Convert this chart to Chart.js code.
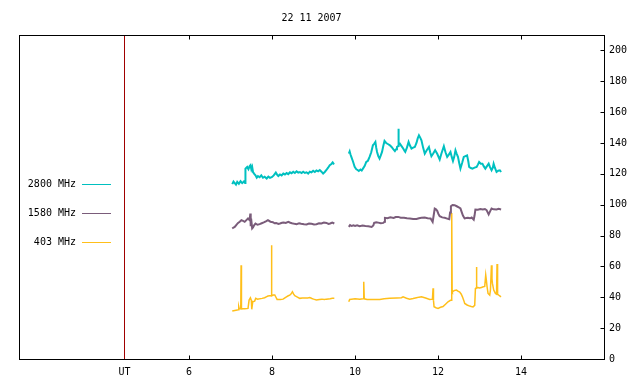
<!DOCTYPE html>
<html>
<head>
<meta charset="utf-8">
<script src="https://cdn.jsdelivr.net/npm/chart.js@4/dist/chart.umd.min.js"></script>
<style>
  html, body { margin: 0; padding: 0; background: #fff; }
  canvas { display: block; }
</style>
</head>
<body>
<canvas id="chart" width="640" height="384"></canvas>
<script>
// radio flux, 22 Nov 2007, hours UT
const chartTitle = "22 11 2007";
const utHour = 4.443; // position of the "UT" marker line
const xTicks = [utHour, 6, 8, 10, 12, 14];
const yTicks = [0, 20, 40, 60, 80, 100, 120, 140, 160, 180, 200];
const xMin = 1.9, xMax = 16;
const yMin = 0, yMax = 210;
const seriesNames = ["2800 MHz", "1580 MHz", "403 MHz"];

// [hour, value], null = data gap
const trace2800 = [
  [7.04,113.3],[7.07,115],[7.10,114],[7.13,113],[7.16,114.8],[7.20,113.5],[7.24,115.2],[7.28,114],[7.32,115],
  [7.350,114],[7.358,123.4],[7.40,124.5],[7.43,123],[7.46,125],[7.48,125.6],[7.50,123],[7.52,124.5],[7.54,121.2],
  [7.57,120],[7.60,119],[7.63,117.5],[7.66,118.5],[7.70,117.8],[7.74,119],[7.78,117.5],[7.82,118.2],[7.87,117],
  [7.91,118.2],[7.95,117.4],[8.00,118],[8.04,119],[8.09,120.8],[8.12,119.5],[8.15,118.6],[8.19,119.6],[8.23,119],
  [8.27,120.2],[8.31,119.6],[8.35,120.5],[8.39,119.8],[8.43,121],[8.47,120.4],[8.51,121.4],[8.55,120.6],[8.59,121.6],
  [8.63,120.8],[8.67,121.2],[8.71,120.5],[8.75,121.4],[8.79,120.6],[8.83,121],[8.87,120.2],[8.91,121.4],[8.95,121],
  [8.99,122],[9.03,121.2],[9.07,122.2],[9.11,121.6],[9.15,122.5],[9.19,121.4],[9.23,120.2],[9.27,121.2],[9.31,122.5],
  [9.35,124],[9.39,125.6],[9.43,126.4],[9.46,127.4],[9.48,126.6],[9.50,127],
  [9.68,null],
  [9.85,133.1],[9.87,134.5],[9.89,132.5],[9.91,131],[9.95,128],[9.99,124.5],[10.03,123],[10.06,122.5],[10.09,121.9],
  [10.13,122.8],[10.16,122.2],[10.19,123.4],[10.23,125],[10.27,127.7],[10.31,128.5],[10.35,131],[10.39,134],[10.43,138.5],
  [10.46,139.5],[10.49,140.7],[10.51,137],[10.53,134.2],[10.56,131.5],[10.59,129.9],[10.62,132],[10.65,134.2],[10.68,138],
  [10.71,141.3],[10.75,140],[10.80,139.2],[10.84,138.5],[10.88,137.4],[10.92,136],[10.96,134.8],[10.99,136],[11.01,137.4],
  [11.04,138],[11.046,149.3],[11.052,139],[11.08,139.6],[11.12,138],[11.16,136.4],[11.19,135],[11.21,134.2],[11.25,137],
  [11.29,140.7],[11.32,138.5],[11.36,136.4],[11.40,137],[11.44,137.4],[11.48,140],[11.51,143],[11.54,145],[11.57,143.5],
  [11.60,141.7],[11.64,137],[11.68,133.1],[11.72,135],[11.78,137.4],[11.81,134],[11.84,131.4],[11.88,133],[11.93,135.3],
  [11.98,133],[12.04,129.3],[12.08,133],[12.14,137.9],[12.18,134],[12.22,131],[12.26,132.5],[12.30,134.2],[12.33,131],
  [12.36,128.3],[12.39,131],[12.42,135.3],[12.45,133],[12.48,131],[12.51,127],[12.54,123.4],[12.58,127],[12.62,131],
  [12.66,131.5],[12.70,132],[12.73,128],[12.75,124.5],[12.79,123.8],[12.83,123.4],[12.88,124],[12.93,124.5],[12.96,126],
  [12.99,127.7],[13.03,126.6],[13.07,126.6],[13.10,125],[13.14,123.4],[13.18,125],[13.22,126.6],[13.25,124.5],[13.29,122.3],
  [13.32,124],[13.34,126.6],[13.37,124],[13.41,121.2],[13.45,122],[13.49,122.3],[13.52,121.2]
];

const trace1580 = [
  [7.04,84.6],[7.07,85.2],[7.10,85.6],[7.14,87],[7.18,88.2],[7.22,89],[7.26,90],[7.30,89.5],[7.34,88.9],[7.38,90],
  [7.42,91.1],[7.46,90],[7.475,94.3],[7.485,86],[7.495,91],[7.52,84.6],[7.54,85.2],[7.57,86.8],[7.60,87.8],[7.65,87],
  [7.70,87.4],[7.75,88],[7.80,88.5],[7.85,89.2],[7.90,90],[7.96,89],[8.02,88.7],[8.06,88],[8.10,88.2],[8.15,87.6],
  [8.19,87.8],[8.24,88.3],[8.28,88.5],[8.33,88.2],[8.39,88.9],[8.44,88.3],[8.48,88],[8.54,87.6],[8.59,87.4],[8.65,87.9],
  [8.70,87.6],[8.77,87.3],[8.83,87.2],[8.89,87.8],[8.95,87.6],[9.01,87.2],[9.07,87.4],[9.13,88],[9.19,87.8],[9.25,88.4],
  [9.31,88.2],[9.36,87.6],[9.40,87.8],[9.45,88.4],[9.50,87.8],
  [9.68,null],
  [9.85,85.6],[9.88,86.8],[9.92,86.2],[9.96,86.6],[10.00,86.2],[10.05,86.6],[10.11,86.1],[10.18,86.5],[10.25,86.2],
  [10.32,86],[10.40,85.6],[10.44,86.5],[10.46,88.2],[10.51,88.6],[10.56,88.4],[10.62,88],[10.68,88.2],[10.71,89],
  [10.72,91.5],[10.78,91.2],[10.85,91.8],[10.93,91.4],[10.98,92],[11.04,92.1],[11.10,91.6],[11.18,91.6],[11.25,91.2],
  [11.32,91.1],[11.40,90.8],[11.48,90.7],[11.54,91.2],[11.60,91.5],[11.68,91.7],[11.75,91.3],[11.82,91.1],[11.87,88.9],
  [11.90,94],[11.92,97.5],[11.95,97],[11.98,96],[12.01,94],[12.04,92.6],[12.10,91.8],[12.16,91.5],[12.22,91],[12.27,90.6],
  [12.29,95],[12.31,99],[12.35,99.8],[12.40,99.7],[12.45,99],[12.51,98.2],[12.54,97.6],[12.56,96],[12.60,93],[12.64,91.1],
  [12.68,91.4],[12.72,91.5],[12.77,91.2],[12.81,91.7],[12.86,90.3],[12.88,93],[12.90,96.9],[12.96,96.7],[13.02,97.2],
  [13.08,96.9],[13.13,97.2],[13.17,96.5],[13.22,93.7],[13.26,96],[13.29,97.5],[13.34,97],[13.41,96.9],[13.46,97.3],
  [13.52,96.9]
];

const trace403 = [
  [7.04,31.1],[7.10,31.5],[7.16,31.7],[7.19,32],[7.197,33.9],[7.21,32.5],[7.245,32.5],[7.253,60.8],[7.262,32.5],
  [7.30,32.6],[7.34,32.6],[7.42,32.8],[7.446,38.2],[7.478,39.7],[7.50,38],[7.510,32.2],[7.534,37.1],[7.58,37.5],
  [7.606,39.3],[7.65,38.8],[7.70,39],[7.76,39.3],[7.82,39.7],[7.86,40.3],[7.90,40.8],[7.944,41],[7.975,41],[7.984,73.8],
  [7.995,41],[8.03,41.5],[8.065,41.5],[8.09,40.2],[8.121,38.6],[8.20,38.6],[8.265,38.8],[8.30,39.5],[8.346,40.3],
  [8.39,41],[8.426,41.4],[8.46,42.2],[8.49,43.6],[8.52,42],[8.547,41],[8.60,40.3],[8.667,39.3],[8.73,39.5],[8.80,39.5],
  [8.86,39.6],[8.908,39.8],[8.96,39.2],[9.00,38.8],[9.069,38.2],[9.14,38.6],[9.20,38.8],[9.26,38.5],[9.31,38.8],
  [9.40,39],[9.45,39.3],[9.50,39.3],
  [9.68,null],
  [9.848,37.1],[9.87,38.6],[9.913,38.8],[10.0,39],[10.113,38.8],[10.193,39],[10.205,39],[10.213,50],[10.222,39],
  [10.29,38.6],[10.354,38.6],[10.45,38.6],[10.595,38.6],[10.70,39],[10.836,39.3],[11.0,39.5],[11.118,39.7],[11.157,40.3],
  [11.24,39.4],[11.318,38.8],[11.40,39.2],[11.479,39.7],[11.54,40.1],[11.60,40.3],[11.70,39.5],[11.80,38.6],[11.865,38.8],
  [11.875,38.8],[11.880,45.8],[11.89,38],[11.904,33.9],[11.95,33.2],[12.0,32.8],[12.06,33.5],[12.12,34],[12.18,35.5],
  [12.241,37.1],[12.299,38],[12.322,38],[12.330,94.7],[12.340,44],[12.347,43.6],[12.40,44.5],[12.443,44.7],[12.48,44],
  [12.523,43.4],[12.56,42],[12.588,40.3],[12.62,38],[12.643,36],[12.70,35],[12.764,34.3],[12.80,34],[12.843,33.8],
  [12.884,34.8],[12.901,45.8],[12.915,46],[12.925,59.7],[12.935,46],[12.949,46.4],[13.00,46],[13.046,46.4],[13.09,46.8],
  [13.125,47],[13.149,54.4],[13.165,51],[13.181,47],[13.205,42.5],[13.246,41.4],[13.263,44.7],[13.287,60.8],[13.30,52],
  [13.311,49],[13.342,44.7],[13.383,42.5],[13.410,42],[13.422,61.5],[13.435,42],[13.446,41.8],[13.48,41],[13.518,40.3]
];

function toPoints(trace) {
  return trace.map(p => ({ x: p[0], y: p[1] }));
}

const monoFont = { family: "DejaVu Sans Mono", size: 10 };

// frame, inward ticks, title and the left-side legend
const framePlugin = {
  id: "frame",
  afterDraw(chart) {
    const { ctx, chartArea: a, scales } = chart;
    const L = Math.round(a.left) + 0.5, R = Math.round(a.right) + 0.5;
    const T = Math.round(a.top) + 0.5, B = Math.round(a.bottom) + 0.5;
    ctx.save();
    ctx.strokeStyle = "#000";
    ctx.lineWidth = 1;
    ctx.strokeRect(L, T, R - L, B - T);
    ctx.beginPath();
    xTicks.forEach(v => {
      if (v === utHour) return;
      const px = Math.round(scales.x.getPixelForValue(v)) + 0.5;
      ctx.moveTo(px, B); ctx.lineTo(px, B - 4);
      ctx.moveTo(px, T); ctx.lineTo(px, T + 4);
    });
    yTicks.forEach(v => {
      const py = Math.round(scales.y.getPixelForValue(v)) + 0.5;
      ctx.moveTo(R, py); ctx.lineTo(R - 4, py);
    });
    ctx.stroke();

    ctx.fillStyle = "#000";
    ctx.font = monoFont.size + "px " + monoFont.family;
    ctx.textAlign = "center";
    ctx.textBaseline = "middle";
    ctx.fillText(chartTitle, (a.left + a.right) / 2, 18);

    // legend
    ctx.textAlign = "right";
    chart.data.datasets.slice(0, 3).forEach((ds, i) => {
      const yy = 184 + i * 29;
      ctx.fillStyle = "#000";
      ctx.fillText(ds.label, 76, yy + 0.5);
      ctx.strokeStyle = ds.borderColor;
      ctx.beginPath();
      ctx.moveTo(82, yy + 0.5);
      ctx.lineTo(111, yy + 0.5);
      ctx.stroke();
    });
    ctx.restore();
  }
};

const lineStyle = { pointRadius: 0, tension: 0, spanGaps: false, fill: false };

new Chart(document.getElementById("chart"), {
  type: "line",
  data: {
    datasets: [
      { label: seriesNames[0], data: toPoints(trace2800), borderColor: "#00c0c0", borderWidth: 2, ...lineStyle },
      { label: seriesNames[1], data: toPoints(trace1580), borderColor: "#7a5c7a", borderWidth: 2, ...lineStyle },
      { label: seriesNames[2], data: toPoints(trace403), borderColor: "#ffbf1a", borderWidth: 1.5, ...lineStyle },
      {
        label: "UT",
        data: [{ x: utHour, y: yMin }, { x: utHour, y: yMax }],
        borderColor: "#a00000", borderWidth: 1, pointRadius: 0
      }
    ]
  },
  options: {
    responsive: false,
    animation: false,
    devicePixelRatio: 1,
    layout: { padding: { left: 19, top: 35, right: 0, bottom: 0 } },
    plugins: { legend: { display: false }, title: { display: false }, tooltip: { enabled: false } },
    scales: {
      x: {
        type: "linear",
        min: xMin,
        max: xMax,
        grid: { display: false, drawTicks: false },
        border: { display: false },
        afterBuildTicks: s => { s.ticks = xTicks.map(v => ({ value: v })); },
        afterFit: s => { s.height = 25; },
        ticks: {
          autoSkip: false,
          maxRotation: 0,
          padding: 7,
          color: "#000",
          font: monoFont,
          callback: v => (v === utHour ? "UT" : String(v))
        }
      },
      y: {
        position: "right",
        min: yMin,
        max: yMax,
        grid: { display: false, drawTicks: false },
        border: { display: false },
        afterBuildTicks: s => { s.ticks = yTicks.map(v => ({ value: v })); },
        afterFit: s => { s.width = 36; },
        ticks: { padding: 5, color: "#000", font: monoFont }
      }
    }
  },
  plugins: [framePlugin]
});
</script>
</body>
</html>
